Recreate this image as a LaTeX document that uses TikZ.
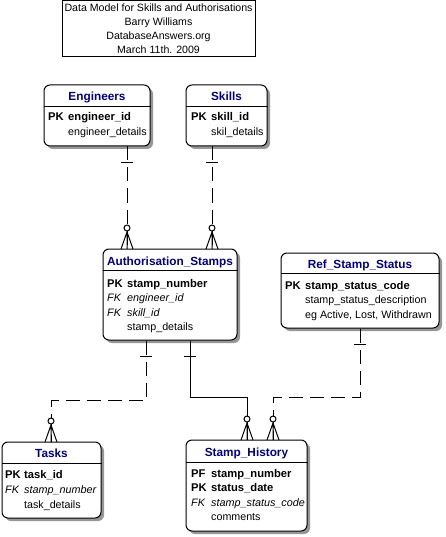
\documentclass[tikz,border=0pt]{standalone}
\usepackage{fontspec}
\setmainfont{Liberation Sans}
\usetikzlibrary{shadows}
\definecolor{headblue}{RGB}{0,0,128}
\definecolor{shadegray}{RGB}{150,150,150}
\newcommand{\erfont}{\fontsize{10.7}{13}\selectfont}
\newcommand{\erhead}{\fontsize{11.8}{13}\selectfont\bfseries}
\newcommand{\erbold}{\fontsize{11.2}{13}\selectfont\bfseries}
\newcommand{\erital}{\fontsize{10.8}{13}\selectfont\itshape}
\tikzset{
  entity/.style={draw, line width=1pt, rounded corners=6pt, fill=white, inner sep=0,
    drop shadow={shadow xshift=3pt, shadow yshift=-3pt, fill=shadegray, opacity=1}},
  ehead/.style={anchor=base, inner sep=0, text=headblue, font=\erhead},
  ekey/.style={anchor=base west, inner sep=0, font=\erbold},
  efk/.style={anchor=base west, inner sep=0, font=\erital},
  efield/.style={anchor=base west, inner sep=0, font=\erfont},
  rel/.style={line width=1pt},
  optrel/.style={line width=1pt, dash pattern=on 14pt off 7pt},
  oneend/.pic={\draw[line width=1pt] (-6,0) -- (6,0);},
  manyend/.pic={\draw[line width=1pt] (-6,17) -- (0,0) -- (6,17) (0,0) -- (0,17);
    \draw[line width=1pt, fill=white] (0,-4) circle (3);}
}
\begin{document}
\begin{tikzpicture}[x=1pt,y=-1pt]
\useasboundingbox (0,0) rectangle (445,537);

\node[draw, line width=1pt, minimum width=193, minimum height=56, inner sep=0, align=center, font=\fontsize{10.6}{14}\selectfont] (title) at (158.5,28.75) {Data Model for Skills and Authorisations\\Barry Williams\\DatabaseAnswers.org\\March 11th. 2009};

\node[entity, minimum width=106, minimum height=61] (eng) at (97,115.5) {};
\node[ehead] (engT) at (97,101) {Engineers};
\draw[rel] (eng.west |- 0,107) -- (eng.east |- 0,107);
\node[ekey] (engK1) at (48,121) {PK};
\node[ekey] (engA1) at (68,121) {engineer\_id};
\node[efield] (engA2) at (68,136) {engineer\_details};

\node[entity, minimum width=81, minimum height=61] (skl) at (226.5,115.5) {};
\node[ehead] (sklT) at (226.5,101) {Skills};
\draw[rel] (skl.west |- 0,107) -- (skl.east |- 0,107);
\node[ekey] (sklK1) at (191,121) {PK};
\node[ekey] (sklA1) at (211,121) {skill\_id};
\node[efield] (sklA2) at (211,136) {skil\_details};

\node[entity, minimum width=134, minimum height=91] (auth) at (170,294.5) {};
\node[ehead] (authT) at (170,265) {Authorisation\_Stamps};
\draw[rel] (auth.west |- 0,270) -- (auth.east |- 0,270);
\node[ekey] (authK1) at (107,287) {PK};
\node[ekey] (authA1) at (127,287) {stamp\_number};
\node[efk] (authK2) at (107,301.5) {FK};
\node[efk] (authA2) at (127,301.5) {engineer\_id};
\node[efk] (authK3) at (107,316) {FK};
\node[efk] (authA3) at (127,316) {skill\_id};
\node[efield] (authA4) at (127,330.5) {stamp\_details};

\node[entity, minimum width=158, minimum height=75] (ref) at (360,290.5) {};
\node[ehead] (refT) at (360,268) {Ref\_Stamp\_Status};
\draw[rel] (ref.west |- 0,273) -- (ref.east |- 0,273);
\node[ekey] (refK1) at (285,289) {PK};
\node[ekey] (refA1) at (305,289) {stamp\_status\_code};
\node[efield] (refA2) at (305,303.5) {stamp\_status\_description};
\node[efield] (refA3) at (305,318) {eg Active, Lost, Withdrawn};

\node[entity, minimum width=99, minimum height=76] (task) at (51.5,480) {};
\node[ehead] (taskT) at (51.5,457) {Tasks};
\draw[rel] (task.west |- 0,463) -- (task.east |- 0,463);
\node[ekey] (taskK1) at (5,478) {PK};
\node[ekey] (taskA1) at (24,478) {task\_id};
\node[efk] (taskK2) at (5,493) {FK};
\node[efk] (taskA2) at (24,493) {stamp\_number};
\node[efield] (taskA3) at (24,508) {task\_details};

\node[entity, minimum width=121, minimum height=91] (hist) at (246.5,485.5) {};
\node[ehead] (histT) at (246.5,456) {Stamp\_History};
\draw[rel] (hist.west |- 0,462) -- (hist.east |- 0,462);
\node[ekey] (histK1) at (191,477) {PF};
\node[ekey] (histA1) at (211,477) {stamp\_number};
\node[ekey] (histK2) at (191,491.5) {PK};
\node[ekey] (histA2) at (211,491.5) {status\_date};
\node[efk] (histK3) at (191,506) {FK};
\node[efk] (histA3) at (211,506) {stamp\_status\_code};
\node[efield] (histA4) at (211,520.5) {comments};

\draw[optrel] (127,0 |- eng.south) -- (127,0 |- auth.north);
\pic at (127,163) {oneend};
\pic at (127,232) {manyend};

\draw[optrel] (212,0 |- skl.south) -- (212,0 |- auth.north);
\pic at (212,163) {oneend};
\pic at (212,232) {manyend};

\draw[optrel] (146,0 |- auth.south) -- (146,400) -| (51,0 |- task.north);
\pic at (146,356) {oneend};
\pic at (51,425) {manyend};

\draw[rel] (190,0 |- auth.south) -- (190,397) -| (247,0 |- hist.north);
\pic at (190,356) {oneend};
\pic at (247,423) {manyend};

\draw[optrel] (360,0 |- ref.south) -- (360,397) -| (273,0 |- hist.north);
\pic at (360,344) {oneend};
\pic at (273,423) {manyend};
\end{tikzpicture}
\end{document}
